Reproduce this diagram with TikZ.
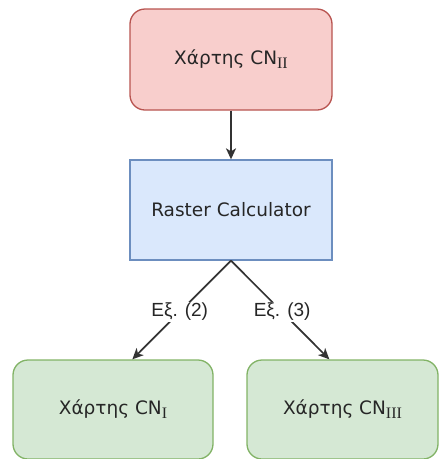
\documentclass[tikz,border=0pt]{standalone}
\usepackage{fontspec}
\setmainfont{DejaVu Sans}
\newfontfamily\lblfont{Liberation Sans}
\newfontfamily\subfont{Liberation Serif}
\usetikzlibrary{arrows.meta}
\definecolor{redfill}{HTML}{F8CECC}
\definecolor{redline}{HTML}{B85450}
\definecolor{bluefill}{HTML}{DAE8FC}
\definecolor{blueline}{HTML}{6C8EBF}
\definecolor{greenfill}{HTML}{D5E8D4}
\definecolor{greenline}{HTML}{82B366}
\definecolor{edge}{HTML}{333333}
\newcommand{\cnsub}[1]{CN\raisebox{-0.4ex}{\subfont\fontsize{16}{16}\selectfont #1}}
\tikzset{
  boxbase/.style={draw, line width=1.3pt, inner sep=0pt, font=\fontsize{18.5}{20}\selectfont, text=black!85},
  redbox/.style={boxbase, fill=redfill, draw=redline, rounded corners=15pt},
  bluebox/.style={boxbase, fill=bluefill, draw=blueline},
  greenbox/.style={boxbase, fill=greenfill, draw=greenline, rounded corners=15pt},
  arr/.style={draw=edge, line width=1.7pt, -{Stealth[length=11pt,width=10pt,inset=3pt]}},
  lbl/.style={fill=white, inner sep=1.5pt, font=\lblfont\fontsize{19}{21}\selectfont, text=black!85}
}
\begin{document}
\begin{tikzpicture}[x=1pt,y=-1pt]
\useasboundingbox (0,0) rectangle (439,459);
\node[redbox, minimum width=202pt, minimum height=101pt] (top) at (231,59.5) {Χάρτης \cnsub{II}};
\node[bluebox, minimum width=202pt, minimum height=100pt] (mid) at (231,210) {Raster Calculator};
\node[greenbox, minimum width=200pt, minimum height=99pt] (left) at (113,409.5) {Χάρτης \cnsub{I}};
\node[greenbox, minimum width=191pt, minimum height=99pt] (right) at (342.5,409.5) {Χάρτης \cnsub{III}};
\draw[arr] (top.south) -- (mid.north);
\draw[arr] (mid.south) -- node[lbl, pos=0.52] {Εξ. (2)} ([xshift=120pt]left.north west);
\draw[arr] (mid.south) -- node[lbl, pos=0.52] {Εξ. (3)} ([xshift=83pt]right.north west);
\end{tikzpicture}
\end{document}
